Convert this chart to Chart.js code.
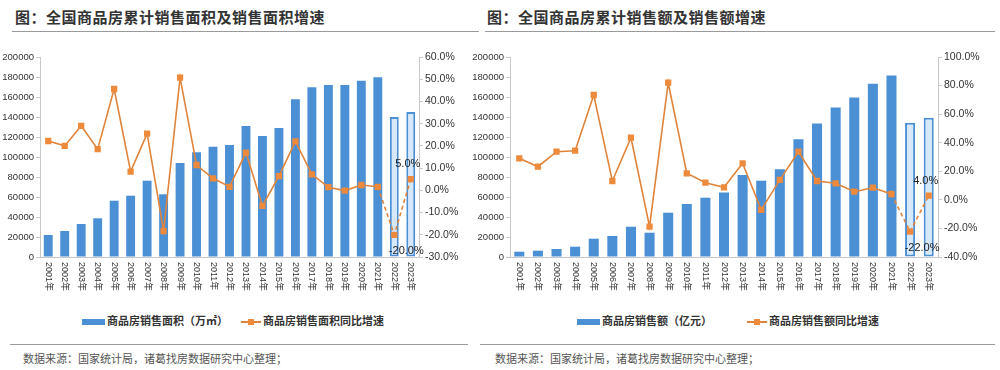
<!DOCTYPE html>
<html><head><meta charset="utf-8">
<script src="https://cdn.jsdelivr.net/npm/chart.js@4.4.1/dist/chart.umd.min.js"></script>
<style>
body{margin:0;width:1000px;height:370px;background:#fff;position:relative;overflow:hidden;font-family:"Noto Sans CJK SC","Liberation Sans",sans-serif;}
.title{position:absolute;top:6px;font-size:15px;font-weight:bold;color:#333;white-space:nowrap;letter-spacing:0.5px;}
.hline{position:absolute;height:0;border-top:1px solid #9a9a9a;}
.src{position:absolute;top:350px;font-size:11px;color:#555;white-space:nowrap;}
.leg{position:absolute;top:311px;font-size:11px;font-weight:bold;color:#333;white-space:nowrap;line-height:18px;height:18px;}
.sw{display:inline-block;vertical-align:middle;}
canvas{position:absolute;top:0;}
</style></head>
<body>
<div class="title" style="left:15px">图：全国商品房累计销售面积及销售面积增速</div>
<div class="hline" style="left:12px;width:467px;top:31px"></div>
<div class="title" style="left:487px">图：全国商品房累计销售额及销售额增速</div>
<div class="hline" style="left:485px;width:510px;top:31px"></div>

<canvas id="c1" width="465" height="300" style="left:0;width:465px;height:300px"></canvas>
<canvas id="c2" width="535" height="300" style="left:465px;width:535px;height:300px"></canvas>

<div class="leg" style="left:82px"><span class="sw" style="width:23px;height:6px;background:#4b8fd5"></span><span style="margin-left:2px">商品房销售面积（万㎡）</span></div>
<div class="leg" style="left:241px"><span class="sw" style="position:relative;width:20px;height:2px;background:#e0843c"><span style="position:absolute;left:7px;top:-2px;width:6px;height:6px;background:#ee8a3c"></span></span><span style="margin-left:2px">商品房销售面积同比增速</span></div>
<div class="leg" style="left:577px"><span class="sw" style="width:23px;height:6px;background:#4b8fd5"></span><span style="margin-left:2px">商品房销售额（亿元）</span></div>
<div class="leg" style="left:747px"><span class="sw" style="position:relative;width:20px;height:2px;background:#e0843c"><span style="position:absolute;left:7px;top:-2px;width:6px;height:6px;background:#ee8a3c"></span></span><span style="margin-left:2px">商品房销售额同比增速</span></div>

<div class="hline" style="left:10px;width:458px;top:344px"></div>
<div class="src" style="left:23px">数据来源：国家统计局，诸葛找房数据研究中心整理；</div>
<div class="hline" style="left:480px;width:515px;top:344px"></div>
<div class="src" style="left:495px">数据来源：国家统计局，诸葛找房数据研究中心整理；</div>

<script>
// ---- data ----
const years = ["2001年","2002年","2003年","2004年","2005年","2006年","2007年","2008年","2009年","2010年","2011年","2012年","2013年","2014年","2015年","2016年","2017年","2018年","2019年","2020年","2021年","2022年","2023年"];
const areaValues = [22000,26000,33000,38700,56300,61300,76300,62700,94000,104700,110300,112000,131000,121000,129000,157700,169700,172000,172000,176300,179700,140000,145000];
const areaGrowth = [22.2,20.0,29.0,18.5,45.6,8.4,25.5,-18.3,50.7,11.4,5.4,1.6,17.0,-7.0,6.4,22.0,7.2,1.4,-0.1,2.4,1.6,-20.0,5.0];
const salesValues = [5300,6300,8000,10300,18300,21000,30300,24300,44300,53000,59300,64500,82000,76300,87700,117700,133500,149500,159500,173300,181500,134300,139300];
const salesGrowth = [29.1,23.2,33.7,34.4,73.4,13.2,43.5,-18.8,82.0,18.6,12.0,8.8,25.6,-7.0,14.0,33.7,13.2,11.6,5.7,8.5,4.1,-22.3,2.9];
const leftTicksL = [0,20000,40000,60000,80000,100000,120000,140000,160000,180000,200000];
const areaPctTicks = [-30,-20,-10,0,10,20,30,40,50,60];
const salesPctTicks = [-40,-20,0,20,40,60,80,100];
const areaPointLabels = ["-20.0%","5.0%"];   // for 2022, 2023
const salesPointLabels = ["-22.0%","4.0%"];  // for 2022, 2023
const forecastFrom = 21; // 2022 index

const BLUE = "#4b8fd5", ORANGE = "#e0843c", MARK = "#ee8a3c";

function xLabelPlugin() {
  return {
    id: 'vlabels',
    afterDraw(chart) {
      const xs = chart.scales.x, ctx = chart.ctx;
      ctx.save();
      ctx.fillStyle = '#333';
      ctx.font = '9px "Liberation Sans", "Noto Sans CJK SC"';
      ctx.textAlign = 'left';
      ctx.textBaseline = 'middle';
      years.forEach((lab, i) => {
        const x = xs.getPixelForTick(i);
        ctx.save();
        ctx.translate(x, chart.chartArea.bottom + 5);
        ctx.rotate(Math.PI / 2);
        ctx.fillText(lab, 0, 0);
        ctx.restore();
      });
      ctx.restore();
    }
  };
}
function pointLabelPlugin(labels) {
  return {
    id: 'plabels',
    afterDatasetsDraw(chart) {
      const meta = chart.getDatasetMeta(1), ctx = chart.ctx;
      ctx.save();
      ctx.fillStyle = '#222';
      ctx.font = '11px "Liberation Sans", sans-serif';
      ctx.textAlign = 'center';
      ctx.textBaseline = 'middle';
      const p1 = meta.data[forecastFrom], p2 = meta.data[forecastFrom + 1];
      ctx.fillText(labels[0], p1.x + 12, p1.y + 16);
      ctx.fillText(labels[1], p2.x - 3, p2.y - 15);
      ctx.restore();
    }
  };
}

function makeChart(id, bars, growth, pctTicks, labels, leftW, rightW) {
  const bg = bars.map((v, i) => i >= forecastFrom ? 'rgba(214,232,249,1)' : BLUE);
  const bw = bars.map((v, i) => i >= forecastFrom ? 2 : 0);
  const pMin = pctTicks[0], pMax = pctTicks[pctTicks.length - 1];
  new Chart(document.getElementById(id), {
    data: {
      labels: years,
      datasets: [
        { type: 'bar', data: bars, yAxisID: 'y', backgroundColor: bg, borderColor: BLUE, borderWidth: bw,
          borderSkipped: false, categoryPercentage: 1, barPercentage: 0.54, order: 2 },
        { type: 'line', data: growth, yAxisID: 'y1', borderColor: ORANGE, borderWidth: 1.6,
          pointStyle: 'rect', pointRadius: 3.3, pointBackgroundColor: MARK, pointBorderColor: MARK,
          tension: 0, order: 1,
          segment: { borderDash: ctx => ctx.p1DataIndex >= forecastFrom ? [4, 3] : undefined } }
      ]
    },
    options: {
      responsive: false, animation: false,
      layout: { padding: { top: 57, left: 0, right: 0, bottom: 0 } },
      plugins: { legend: { display: false }, tooltip: { enabled: false } },
      scales: {
        x: { grid: { display: false }, border: { display: true, color: '#c8c8c8' },
             ticks: { display: false }, afterFit: s => { s.height = 43; } },
        y: { position: 'left', min: 0, max: 200000,
             afterBuildTicks: s => { s.ticks = leftTicksL.map(v => ({ value: v })); },
             grid: { drawOnChartArea: false, tickLength: 4, color: '#c8c8c8' },
             border: { color: '#c8c8c8' },
             ticks: { color: '#333', font: { size: 9.5, family: '"Liberation Sans"' }, padding: 2,
                      callback: v => String(v) },
             afterFit: s => { s.width = leftW; } },
        y1: { position: 'right', min: pMin, max: pMax,
             afterBuildTicks: s => { s.ticks = pctTicks.map(v => ({ value: v })); },
             grid: { drawOnChartArea: false, tickLength: 4, color: '#c8c8c8' },
             border: { color: '#c8c8c8' },
             ticks: { color: '#333', font: { size: 10.5, family: '"Liberation Sans"' }, padding: 2,
                      callback: v => v.toFixed(1) + '%' },
             afterFit: s => { s.width = rightW; } }
      }
    },
    plugins: [xLabelPlugin(), pointLabelPlugin(labels)]
  });
}

makeChart('c1', areaValues, areaGrowth, areaPctTicks, areaPointLabels, 40, 46);
makeChart('c2', salesValues, salesGrowth, salesPctTicks, salesPointLabels, 45, 62);
</script>
</body></html>
